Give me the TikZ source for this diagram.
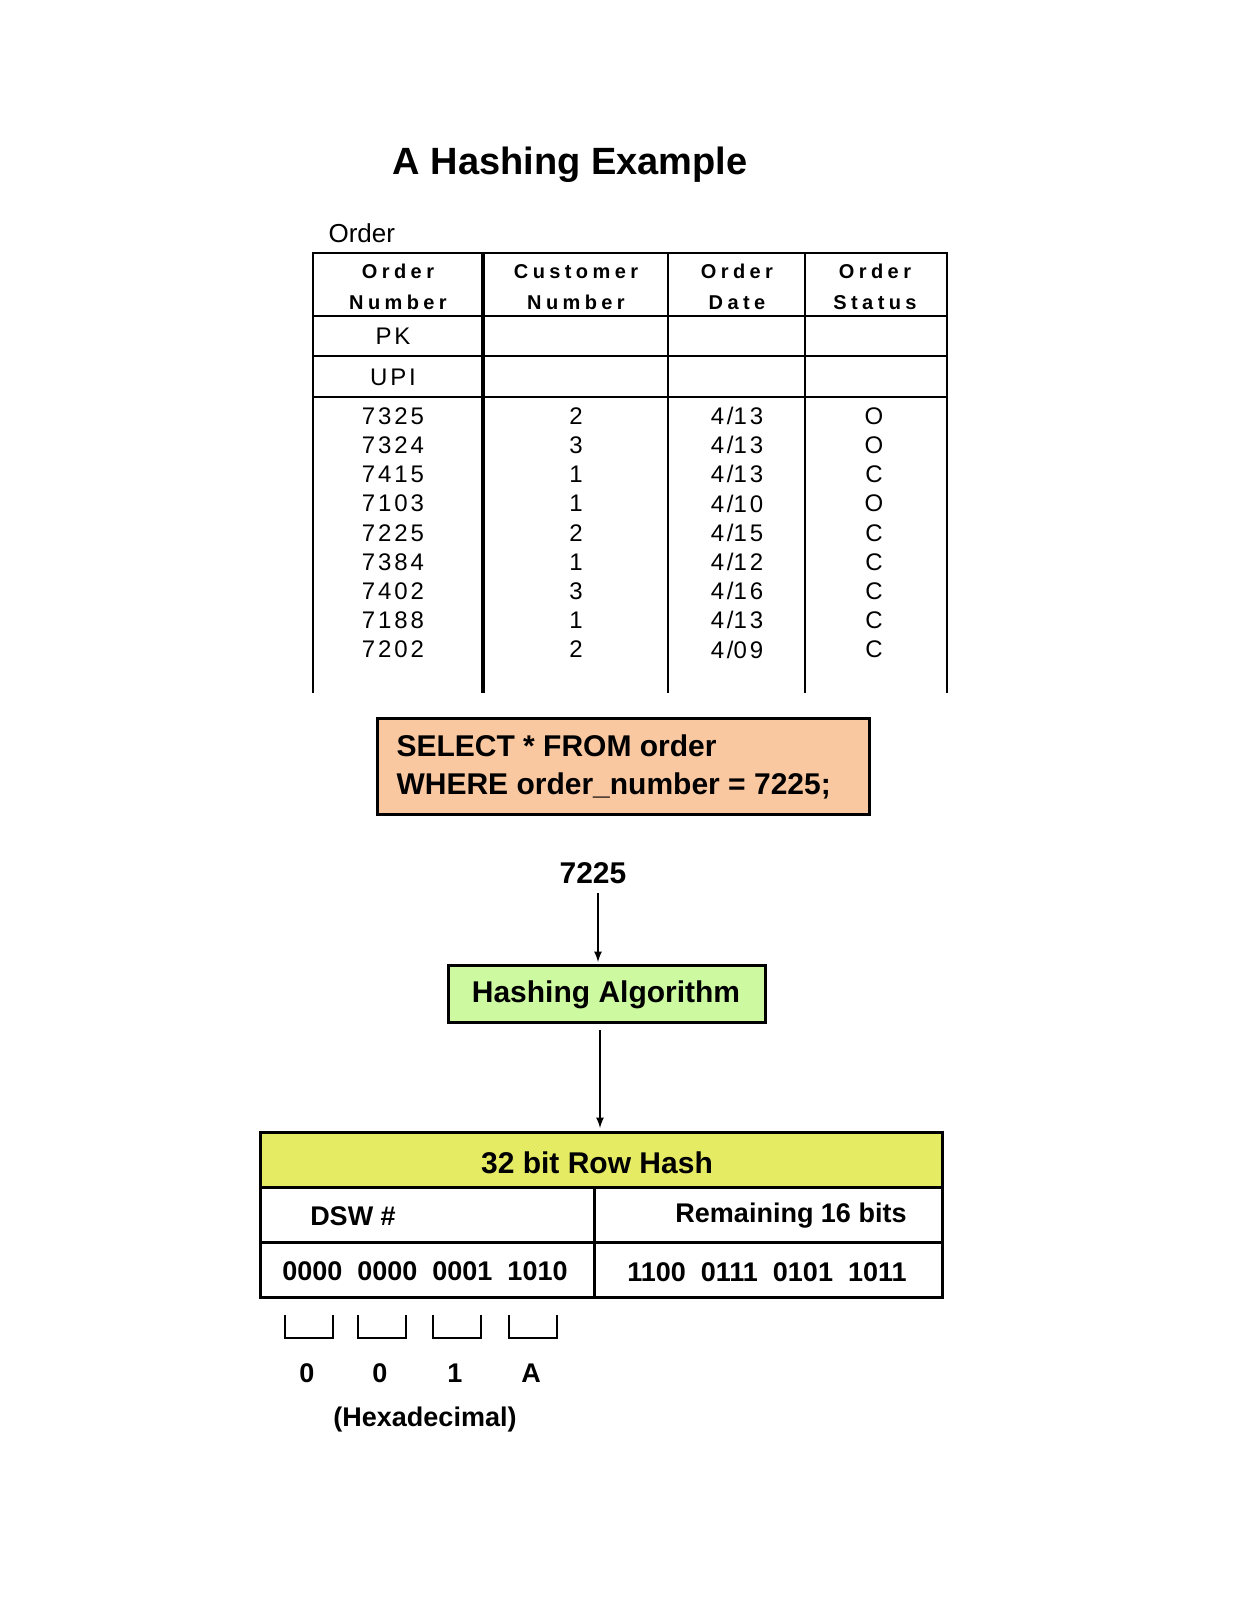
\documentclass[tikz,border=0pt]{standalone}
\usepackage{fontspec}
\setmainfont{Liberation Sans}
\begin{document}
\begin{tikzpicture}[x=1pt,y=-1pt,
  cell/.style={font=\fontsize{24}{24}\selectfont\addfontfeature{LetterSpace=12}},
  hd/.style={font=\bfseries\fontsize{20}{31}\selectfont\addfontfeature{LetterSpace=22},align=center},
  big/.style={font=\bfseries\fontsize{30}{38}\selectfont},
  mid/.style={font=\bfseries\fontsize{27}{27}\selectfont},
  box/.style={draw,line width=3pt},
  arr/.style={-latex,line width=2.5pt}]
\useasboundingbox (0,0) rectangle (1236,1600);
\node[font=\bfseries\fontsize{38}{38}\selectfont] (title) at (570,165) {A Hashing Example};
\node[font=\fontsize{26}{26}\selectfont,anchor=west] (ord) at (325,233) {Order};
\draw[line width=1.3pt] (313,693) -- (313,253) -- (947,253) -- (947,693);
\draw[line width=4pt] (483,253) -- (483,693);
\draw[line width=1.3pt] (668,253) -- (668,693) (805,253) -- (805,693);
\draw[line width=1.3pt] (313,316) -- (947,316) (313,356) -- (947,356);
\draw[line width=1.8pt] (313,397) -- (947,397);
\node[hd] (h1) at (398,287) {Order\\Number};
\node[hd] (h2) at (576,287) {Customer\\Number};
\node[hd] (h3) at (737,287) {Order\\Date};
\node[hd] (h4) at (875,287) {Order\\Status};
\node[cell] (pk) at (393,336) {PK};
\node[cell] (upi) at (393,377) {UPI};
\foreach \a/\b/\c/\d [count=\i from 0] in {7325/2/4\slash13/O,7324/3/4\slash13/O,7415/1/4\slash13/C,7103/1/4\slash10/O,7225/2/4\slash15/C,7384/1/4\slash12/C,7402/3/4\slash16/C,7188/1/4\slash13/C,7202/2/4\slash09/C}{
  \node[cell] (r\i a) at (393,{416+29.2*\i}) {\a};
  \node[cell] (r\i b) at (576,{416+29.2*\i}) {\b};
  \node[cell] (r\i c) at (737,{416+29.2*\i}) {\c};
  \node[cell] (r\i d) at (874,{416+29.2*\i}) {\d};
}
\draw[box,fill={rgb,255:red,250;green,200;blue,160}] (377,718) rectangle (869,814);
\node[big,anchor=west,align=left] (sql) at (393,767) {SELECT * FROM order\\WHERE order\_number = 7225;};
\node[big] (num) at (593,873) {7225};
\draw[box,fill={rgb,255:red,205;green,250;blue,160}] (448,965) rectangle (765,1022);
\node[big] (hash) at (606,995) {Hashing Algorithm};
\coordinate (a1) at (598,893);
\coordinate (a2) at (598,962);
\coordinate (a3) at (600,1030);
\coordinate (a4) at (600,1128);
\draw[arr] (a1) -- (a2);
\draw[arr] (a3) -- (a4);
\draw[box,fill={rgb,255:red,230;green,235;blue,100}] (260,1132) rectangle (942,1187);
\node[big] (rh) at (597,1163) {32 bit Row Hash};
\draw[box] (260,1187) rectangle (942,1242);
\draw[box] (260,1242) rectangle (942,1297);
\draw[box] (594,1187) -- (594,1297);
\node[mid] (dsw) at (353,1216) {DSW \#};
\node[mid] (rem) at (791,1216) {Remaining 16 bits};
\node[mid] (b1) at (425,1271) {0000\ \ 0000\ \ 0001\ \ 1010};
\node[mid] (b2) at (767,1272) {1100\ \ 0111\ \ 0101\ \ 1011};
\foreach \x/\t [count=\i] in {285/0,358/0,433/1,509/A}{
  \draw[line width=2pt] (\x,1315) -- (\x,1338) -- (\x+48,1338) -- (\x+48,1315);
  \node[mid] (hx\i) at (\x+22,1373) {\t};
}
\node[mid] (hexa) at (425,1420) {(Hexadecimal)};
\end{tikzpicture}
\end{document}
